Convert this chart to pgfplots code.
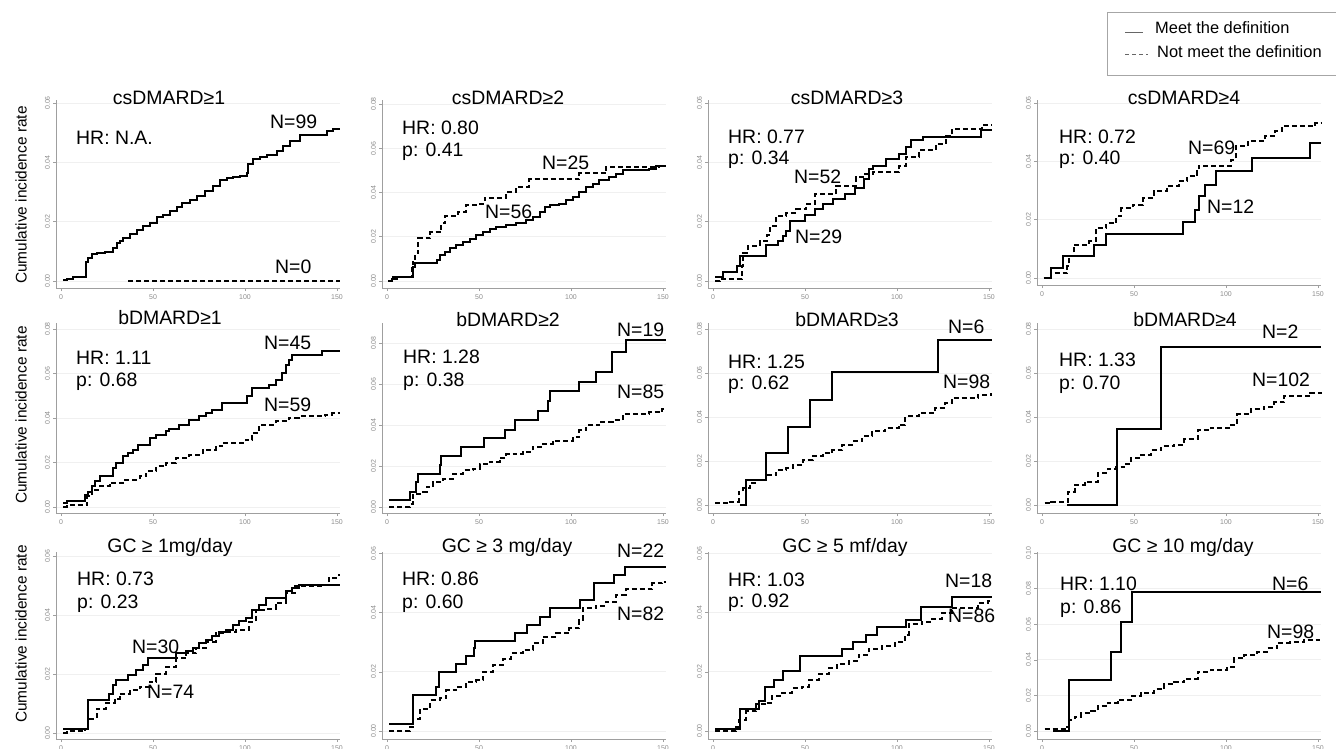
\documentclass[border=0pt]{standalone}
\usepackage{pgfplots}
\pgfplotsset{compat=1.18}
\usepackage{fontspec}
\setmainfont{Liberation Sans}
\newcommand\af{\fontsize{19.5}{22}\selectfont}
\pgfplotsset{
  km/.style={
    scale only axis, width=283.4bp,
    xmin=-2.5, xmax=151.5,
    axis x line*=bottom, axis y line*=left,
    axis line style={draw=gray!75, line width=0.7bp, -},
    xtick={0,50,100,150},
    tick align=outside, major tick length=3bp,
    tick style={draw=gray!75, line width=0.6bp},
    ymajorgrids, grid style={draw=gray!12, line width=0.7bp},
    ticklabel style={font=\fontsize{7}{8}\selectfont, text=gray!90},
    /pgf/number format/assume math mode=true,
    scaled y ticks=false,
    yticklabel style={rotate=90, anchor=south, /pgf/number format/fixed, /pgf/number format/fixed zerofill, /pgf/number format/precision=2},
    xticklabel style={anchor=north},
    clip=false, anchor=south west,
  },
  sol/.style={black, line width=2bp, const plot, no marks},
  das/.style={black, line width=2bp, const plot, no marks, dash pattern=on 5bp off 3bp},
}
\begin{document}
\begin{tikzpicture}
\useasboundingbox (0,0) rectangle (1336bp,-749bp);
% ---------- Row 1 ----------
\begin{axis}[km, at={(56.4bp,-288bp)}, height=188bp, ymin=-0.00236, ymax=0.061, ytick={0,0.02,0.04,0.06}]
\addplot[sol] coordinates {(1.3,0.0003)(3.1,0.0008)(6.7,0.0015)(13.6,0.0065)(14.9,0.0078)(16.7,0.009)(19.4,0.0094)(24,0.0097)(28.4,0.011)(30.3,0.0128)(32,0.0135)(33.9,0.0145)(37.5,0.016)(41.1,0.0172)(44.7,0.0184)(48.4,0.0196)(52,0.0216)(55.6,0.0224)(59.2,0.0235)(62.9,0.025)(65.6,0.0263)(70.1,0.0272)(73.7,0.0286)(78.3,0.0303)(82.8,0.032)(86.4,0.034)(90,0.0346)(93.7,0.035)(97.3,0.0354)(100.9,0.0365)(101.8,0.0393)(104.5,0.041)(108.2,0.0418)(111.8,0.0426)(117.2,0.0438)(120.8,0.0455)(124.5,0.0472)(129.9,0.0492)(144.4,0.0506)(148,0.0512)(151.5,0.0512)};
\addplot[das] coordinates {(36.6,0)(151.5,0)};
\end{axis}
\begin{axis}[km, at={(382.4bp,-288bp)}, height=188bp, ymin=-0.00316, ymax=0.0818, ytick={0,0.02,0.04,0.06,0.08}]
\addplot[sol] coordinates {(0.7,0)(2.5,0.0008)(5.2,0.0016)(7,0.002)(13.9,0.0065)(15.2,0.008)(26.9,0.0095)(28.7,0.0117)(31.4,0.0132)(34.1,0.0147)(37.7,0.0162)(41.3,0.0177)(44.9,0.019)(48.6,0.0207)(52.2,0.0223)(55.8,0.0235)(59.4,0.0245)(64.8,0.0253)(70.2,0.026)(75.6,0.0275)(79.2,0.029)(82.9,0.0313)(85.6,0.0335)(88.3,0.0342)(93.7,0.035)(97.3,0.0365)(100.9,0.038)(104.5,0.0402)(108.1,0.0425)(111.7,0.044)(115.3,0.0455)(120.8,0.047)(124.4,0.0485)(128,0.05)(142.4,0.0508)(146,0.0518)(151.5,0.0518)};
\addplot[das] coordinates {(0.7,0)(2.5,0.002)(13.4,0.007)(13.9,0.0087)(15.2,0.0125)(17,0.0193)(23.3,0.022)(29.6,0.026)(31.4,0.0293)(38.6,0.0313)(43.1,0.0343)(50.4,0.035)(53.1,0.0377)(64.8,0.0403)(70.2,0.0426)(77.4,0.0459)(104.5,0.0486)(119,0.0516)(147.8,0.0519)(151.5,0.0519)};
\end{axis}
\begin{axis}[km, at={(708.4bp,-288bp)}, height=188bp, ymin=-0.00236, ymax=0.061, ytick={0,0.02,0.04,0.06}]
\addplot[sol] coordinates {(1.1,0.0015)(5.6,0.0032)(12.8,0.0049)(14.6,0.0083)(28.7,0.012)(35.4,0.0134)(38.1,0.015)(39.9,0.0168)(42.1,0.0202)(49.8,0.0224)(55.2,0.0241)(59.7,0.0258)(65.2,0.0275)(71.5,0.0292)(76.9,0.0315)(82.3,0.0343)(84.7,0.0377)(86.8,0.0389)(94,0.0411)(101.3,0.0428)(104.9,0.0451)(107.6,0.0474)(113.9,0.0485)(145.5,0.0508)(151.5,0.0508)};
\addplot[das] coordinates {(1.1,0)(3.8,0.0007)(15.5,0.0049)(16.4,0.0094)(19.1,0.0117)(25.5,0.0134)(29.1,0.0156)(30.9,0.0185)(34.5,0.0219)(39.9,0.023)(45.3,0.0241)(50.7,0.0258)(55.2,0.0292)(67,0.032)(77.8,0.0349)(81.4,0.036)(86.8,0.0366)(101.3,0.0389)(104.9,0.0417)(112.1,0.044)(121.1,0.0462)(126.5,0.049)(130.1,0.0513)(146.4,0.0525)(151.5,0.0525)};
\end{axis}
\begin{axis}[km, at={(1037.4bp,-285bp)}, height=185bp, ymin=-0.0024, ymax=0.061, ytick={0,0.02,0.04,0.06}]
\addplot[sol] coordinates {(1,0)(5.1,0.0034)(11.6,0.0074)(28.1,0.0112)(34.9,0.0152)(76.7,0.0191)(82.9,0.0234)(85.3,0.028)(88.4,0.032)(94.5,0.0366)(114.1,0.0411)(145.5,0.0463)(151.5,0.0463)};
\addplot[das] coordinates {(0.9,0)(5.1,0.0017)(13.8,0.004)(14.7,0.0074)(17.4,0.0114)(25.7,0.0126)(29.4,0.0171)(34.9,0.0189)(40.4,0.0211)(43.1,0.024)(49.5,0.0251)(55,0.0274)(60.6,0.0297)(67.9,0.0314)(74.3,0.0331)(78.9,0.0349)(84.4,0.0366)(85.3,0.0385)(102.8,0.0406)(105.5,0.0451)(111.9,0.0469)(121.1,0.0486)(126.6,0.0503)(130.3,0.052)(148.6,0.0531)(151.5,0.0531)};
\end{axis}
% ---------- Row 2 ----------
\begin{axis}[km, at={(56.4bp,-513bp)}, height=190bp, ymin=-0.0027, ymax=0.0827, ytick={0,0.02,0.04,0.06,0.08}]
\addplot[sol] coordinates {(1.3,0.0018)(3.1,0.0025)(13,0.0055)(14.8,0.0067)(16.6,0.0093)(18.4,0.0115)(21.1,0.0138)(28.3,0.0175)(30.1,0.0198)(33.7,0.0228)(36.4,0.0243)(39.1,0.0258)(41.8,0.0277)(48.1,0.031)(51.7,0.0325)(57.1,0.034)(58.9,0.0352)(64.3,0.037)(69.7,0.039)(75.1,0.0407)(78.7,0.0422)(82.3,0.0437)(87.7,0.0467)(101.3,0.0497)(104,0.0535)(113,0.055)(116.6,0.0572)(120.2,0.0602)(122,0.064)(123.8,0.0662)(125.6,0.0685)(141.8,0.07)(151.5,0.07)};
\addplot[das] coordinates {(1.3,0)(3.1,0.0008)(14.2,0.0048)(16.6,0.0078)(21.1,0.0093)(26.5,0.011)(33.7,0.0123)(42.7,0.0138)(46.3,0.016)(51.7,0.0183)(57.1,0.0198)(62.5,0.022)(69.7,0.0235)(76.9,0.0258)(84.1,0.0273)(87.7,0.0288)(100.4,0.0303)(104,0.0333)(107.6,0.037)(116.6,0.0385)(123.8,0.04)(129.2,0.0407)(143.6,0.0415)(147.2,0.0422)(151.5,0.0422)};
\end{axis}
\begin{axis}[km, at={(382.4bp,-513bp)}, height=190bp, ymin=-0.0029, ymax=0.0898, ytick={0,0.02,0.04,0.06,0.08}]
\addplot[sol] coordinates {(1.3,0.0036)(12.5,0.0073)(15.7,0.0122)(17,0.0163)(28.7,0.0203)(29.1,0.0249)(40.4,0.0293)(52.5,0.0337)(64.3,0.0377)(69.3,0.0423)(82.3,0.0468)(87.7,0.0517)(88.6,0.0566)(104.2,0.061)(113.5,0.0659)(122.2,0.0756)(130.1,0.0813)(151.5,0.0813)};
\addplot[das] coordinates {(1.3,0)(12.5,0.0013)(13.9,0.0033)(14.3,0.0065)(17.9,0.0073)(21.5,0.0098)(25.1,0.0122)(30.5,0.0138)(35.9,0.0163)(41.3,0.0179)(46.8,0.0187)(50.4,0.0208)(55.8,0.022)(61.2,0.0239)(64.8,0.0257)(70.2,0.026)(73.8,0.0268)(79.2,0.0293)(84.6,0.0309)(90.1,0.0322)(100.9,0.0341)(104.5,0.0374)(108.1,0.0398)(115.3,0.0415)(122.6,0.0423)(128,0.0452)(142.4,0.0463)(149.6,0.048)(151.5,0.048)};
\end{axis}
\begin{axis}[km, at={(708.4bp,-513bp)}, height=190bp, ymin=-0.0036, ymax=0.0827, ytick={0,0.02,0.04,0.06,0.08}]
\addplot[sol] coordinates {(14.6,0)(17.8,0.0114)(28.6,0.0236)(40.6,0.0354)(52.7,0.0479)(64.4,0.0604)(122.5,0.0748)(151.5,0.0748)};
\addplot[das] coordinates {(1.1,0.0008)(7.4,0.0015)(14.2,0.0061)(16.4,0.0076)(20,0.0099)(23.6,0.0114)(29,0.0137)(34.4,0.016)(39.7,0.0167)(43.3,0.0183)(48.7,0.0205)(54.1,0.0221)(59.5,0.0236)(64.9,0.0251)(70.3,0.0274)(75.7,0.0289)(81.1,0.0312)(86.5,0.0335)(93.7,0.035)(100.9,0.0365)(104.5,0.0403)(111.7,0.0418)(120.7,0.0441)(126.1,0.0464)(129.7,0.0487)(144.1,0.0502)(151,0.0506)(151.5,0.0506)};
\end{axis}
\begin{axis}[km, at={(1037.4bp,-513bp)}, height=190bp, ymin=-0.0036, ymax=0.0827, ytick={0,0.02,0.04,0.06,0.08}]
\addplot[sol] coordinates {(13.7,0)(40.6,0.0347)(64.6,0.0718)(151.5,0.0718)};
\addplot[das] coordinates {(1.4,0.0008)(5.1,0.0015)(14.1,0.0061)(17.7,0.0092)(23.1,0.0107)(30.3,0.0145)(35.7,0.0163)(40.3,0.0171)(44.8,0.0186)(48.4,0.0214)(53.8,0.0229)(59.2,0.0249)(64.6,0.0267)(71.8,0.0275)(77.3,0.0298)(84.5,0.034)(91.7,0.0351)(102.5,0.0366)(106.1,0.0412)(113.4,0.0435)(120.6,0.0446)(126,0.0466)(131.4,0.0496)(145.8,0.0511)(151.5,0.0515)};
\end{axis}
% ---------- Row 3 ----------
\begin{axis}[km, at={(56.4bp,-739bp)}, height=187bp, ymin=-0.002, ymax=0.0614, ytick={0,0.02,0.04,0.06}]
\addplot[sol] coordinates {(1.3,0.0015)(14.4,0.0111)(26.1,0.0131)(28.3,0.0162)(30.1,0.018)(36.4,0.0197)(40.9,0.0214)(44.5,0.023)(47.2,0.0253)(62.5,0.027)(67.9,0.0278)(71.5,0.0288)(75.1,0.0305)(78.7,0.0316)(82.3,0.033)(85.9,0.0344)(89.5,0.035)(93.2,0.0367)(96.8,0.038)(100.4,0.039)(104,0.0418)(107.6,0.0435)(111.2,0.0458)(122,0.0481)(125.6,0.0492)(129.2,0.0503)(151.5,0.0503)};
\addplot[das] coordinates {(1.3,0)(3.1,0.0006)(13,0.0013)(14.8,0.0049)(19.3,0.0083)(24.7,0.0103)(29.2,0.0117)(31.9,0.0134)(37.3,0.0145)(42.7,0.0157)(48.1,0.0174)(51.7,0.0202)(57.1,0.0225)(62.5,0.0253)(67.9,0.027)(73.3,0.0288)(78.7,0.031)(84.1,0.0339)(89.5,0.0344)(95,0.035)(102.2,0.0378)(105.8,0.0418)(111.2,0.0422)(116.6,0.0441)(122,0.0475)(127.4,0.0498)(141.8,0.0503)(145.4,0.0526)(150.8,0.0535)(151.5,0.0535)};
\end{axis}
\begin{axis}[km, at={(382.4bp,-739bp)}, height=187bp, ymin=-0.0027, ymax=0.0605, ytick={0,0.02,0.04,0.06}]
\addplot[sol] coordinates {(1.3,0.0025)(13.9,0.0123)(26.5,0.0149)(28.2,0.02)(37.4,0.0226)(42.8,0.0253)(47.3,0.0279)(48,0.0304)(69.3,0.0332)(76.2,0.0358)(83.4,0.0384)(88.6,0.0415)(104.9,0.0443)(112.3,0.0499)(123.1,0.0528)(129.1,0.0556)(151.5,0.0556)};
\addplot[das] coordinates {(1.3,0)(12.5,0.0014)(14.3,0.0042)(17.9,0.0076)(23.3,0.0104)(28.7,0.011)(32.3,0.0138)(37.7,0.0149)(43.1,0.0166)(48.6,0.0172)(52.2,0.02)(57.6,0.0223)(63,0.0245)(67.5,0.0262)(73.8,0.0273)(79.2,0.0296)(84.7,0.0319)(91.9,0.033)(99.1,0.0347)(104.5,0.0375)(106.3,0.0415)(113.5,0.0424)(118.9,0.0437)(124.4,0.046)(129.8,0.0479)(144.2,0.0499)(149.6,0.0505)(151.5,0.0505)};
\end{axis}
\begin{axis}[km, at={(708.4bp,-739bp)}, height=187bp, ymin=-0.0027, ymax=0.0605, ytick={0,0.02,0.04,0.06}]
\addplot[sol] coordinates {(1.3,0.0006)(14.5,0.0075)(25,0.0101)(28,0.015)(33,0.0173)(38,0.0203)(47,0.0255)(70,0.0278)(76,0.03)(83,0.0323)(89,0.0353)(105,0.0375)(113,0.042)(130,0.0453)(151.5,0.0453)};
\addplot[das] coordinates {(1.3,0)(12.5,0.0012)(14.3,0.0037)(17.9,0.0066)(23.3,0.009)(28.7,0.0096)(32.3,0.012)(37.7,0.013)(43.1,0.0144)(48.6,0.015)(52.2,0.0174)(57.6,0.0194)(63,0.0213)(67.5,0.0228)(73.8,0.0238)(79.2,0.0258)(84.7,0.0278)(91.9,0.0287)(99.1,0.0302)(104.5,0.0326)(106.3,0.0361)(113.5,0.0369)(118.9,0.038)(124.4,0.04)(129.8,0.0417)(144.2,0.0434)(149.6,0.044)(151.5,0.044)};
\end{axis}
\begin{axis}[km, at={(1037.4bp,-739bp)}, height=187bp, ymin=-0.0045, ymax=0.1006, ytick={0,0.02,0.04,0.06,0.08,0.10}]
\addplot[sol] coordinates {(6,0)(14.8,0.0287)(37.5,0.0446)(42.8,0.0613)(48.7,0.0783)(151.5,0.0783)};
\addplot[das] coordinates {(1.4,0.001)(12.3,0.0023)(14.4,0.0062)(17.7,0.0081)(21.3,0.01)(26.7,0.011)(30.3,0.0138)(35.7,0.0158)(41.2,0.0177)(48.4,0.0196)(53.8,0.0215)(61,0.0235)(66.4,0.0263)(71.8,0.0273)(77.3,0.0292)(84.5,0.0331)(91.7,0.0344)(100.7,0.036)(104.3,0.0408)(109.7,0.0427)(117,0.0446)(122.4,0.0465)(127.8,0.0494)(135,0.0498)(142.2,0.051)(149.5,0.0513)(151.5,0.0513)};
\end{axis}
% ---------- Text ----------
\tikzset{lab/.style={anchor=west, inner sep=0pt, font=\af}, ttl/.style={inner sep=0pt, font=\af}}
\foreach \yy in {195,415,634}{\node[rotate=90, inner sep=0pt, font=\fontsize{15.5}{18}\selectfont] at (21bp,-\yy bp) {Cumulative incidence rate};}
% row 1
\node[ttl] at (169bp,-98bp) {csDMARD≥1};
\node[lab] at (76bp,-138bp) {HR: N.A.};
\node[lab] at (270bp,-122bp) {N=99};
\node[lab] at (275bp,-267bp) {N=0};
\node[ttl] at (508bp,-98bp) {csDMARD≥2};
\node[lab] at (402bp,-128bp) {HR: 0.80};
\node[lab] at (402bp,-152bp) {p: 0.41};
\node[lab] at (542bp,-163bp) {N=25};
\node[lab] at (485bp,-212bp) {N=56};
\node[ttl] at (847bp,-98bp) {csDMARD≥3};
\node[lab] at (728bp,-137bp) {HR: 0.77};
\node[lab] at (728bp,-160bp) {p: 0.34};
\node[lab] at (794bp,-177bp) {N=52};
\node[lab] at (795bp,-237bp) {N=29};
\node[ttl] at (1184bp,-98bp) {csDMARD≥4};
\node[lab] at (1059bp,-137bp) {HR: 0.72};
\node[lab] at (1059bp,-160bp) {p: 0.40};
\node[lab] at (1188bp,-148bp) {N=69};
\node[lab] at (1207bp,-207bp) {N=12};
% row 2
\node[ttl] at (170bp,-318bp) {bDMARD≥1};
\node[lab] at (76bp,-358bp) {HR: 1.11};
\node[lab] at (76bp,-382bp) {p: 0.68};
\node[lab] at (264bp,-343bp) {N=45};
\node[lab] at (264bp,-405bp) {N=59};
\node[ttl] at (508bp,-320bp) {bDMARD≥2};
\node[lab] at (403bp,-357bp) {HR: 1.28};
\node[lab] at (403bp,-382bp) {p: 0.38};
\node[lab] at (617bp,-330bp) {N=19};
\node[lab] at (617bp,-392bp) {N=85};
\node[ttl] at (847bp,-320bp) {bDMARD≥3};
\node[lab] at (728bp,-362bp) {HR: 1.25};
\node[lab] at (728bp,-385bp) {p: 0.62};
\node[lab] at (948bp,-327bp) {N=6};
\node[lab] at (943bp,-382bp) {N=98};
\node[ttl] at (1185bp,-320bp) {bDMARD≥4};
\node[lab] at (1059bp,-360bp) {HR: 1.33};
\node[lab] at (1059bp,-385bp) {p: 0.70};
\node[lab] at (1262bp,-332bp) {N=2};
\node[lab] at (1252bp,-380bp) {N=102};
% row 3
\node[ttl] at (170bp,-547bp) {GC ≥ 1mg/day};
\node[lab] at (77bp,-579bp) {HR: 0.73};
\node[lab] at (77bp,-604bp) {p: 0.23};
\node[lab] at (132bp,-647bp) {N=30};
\node[lab] at (147bp,-692bp) {N=74};
\node[ttl] at (507bp,-547bp) {GC ≥ 3 mg/day};
\node[lab] at (402bp,-579bp) {HR: 0.86};
\node[lab] at (402bp,-604bp) {p: 0.60};
\node[lab] at (617bp,-551bp) {N=22};
\node[lab] at (617bp,-614bp) {N=82};
\node[ttl] at (845bp,-547bp) {GC ≥ 5 mf/day};
\node[lab] at (728bp,-580bp) {HR: 1.03};
\node[lab] at (728bp,-603bp) {p: 0.92};
\node[lab] at (945bp,-581bp) {N=18};
\node[lab] at (948bp,-616bp) {N=86};
\node[ttl] at (1183bp,-547bp) {GC ≥ 10 mg/day};
\node[lab] at (1060bp,-584bp) {HR: 1.10};
\node[lab] at (1060bp,-609bp) {p: 0.86};
\node[lab] at (1272bp,-584bp) {N=6};
\node[lab] at (1267bp,-632bp) {N=98};
% legend
\draw[gray!70, line width=0.8bp] (1107bp,-12bp) rectangle (1345bp,-75bp);
\draw[gray!80!black, line width=1bp] (1125bp,-32bp) -- (1143bp,-32bp);
\draw[gray!80!black, line width=1bp, dash pattern=on 4bp off 3bp] (1125bp,-54bp) -- (1148bp,-54bp);
\node[anchor=west, inner sep=0pt, font=\fontsize{16.5}{19}\selectfont] at (1155bp,-28bp) {Meet the definition};
\node[anchor=west, inner sep=0pt, font=\fontsize{16.5}{19}\selectfont] at (1157bp,-52bp) {Not meet the definition};
\end{tikzpicture}
\end{document}
